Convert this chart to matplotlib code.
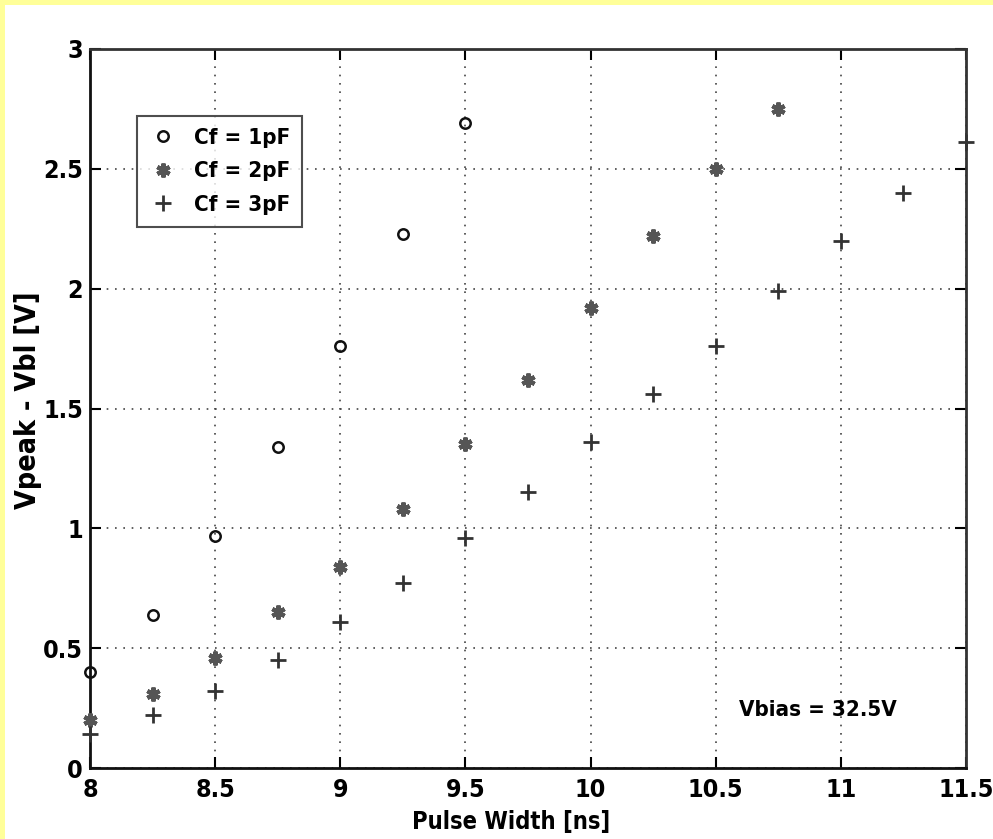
import matplotlib
matplotlib.use("Agg")
import matplotlib.pyplot as plt
from matplotlib.patches import Rectangle

plt.rcParams['font.family'] = ['DejaVu Sans']
plt.rcParams['font.stretch'] = 'condensed'

# Pulse width [ns] and peak voltage above Vbl [V] for three feedback capacitances
pw_1pf = [8.0, 8.25, 8.5, 8.75, 9.0, 9.25, 9.5]
v_1pf = [0.40, 0.64, 0.97, 1.34, 1.76, 2.23, 2.69]

pw_2pf = [8.0, 8.25, 8.5, 8.75, 9.0, 9.25, 9.5, 9.75, 10.0, 10.25, 10.5, 10.75]
v_2pf = [0.20, 0.31, 0.46, 0.65, 0.84, 1.08, 1.35, 1.62, 1.92, 2.22, 2.50, 2.75]

pw_3pf = [8.0, 8.25, 8.5, 8.75, 9.0, 9.25, 9.5, 9.75, 10.0, 10.25, 10.5, 10.75, 11.0, 11.25, 11.5]
v_3pf = [0.14, 0.22, 0.32, 0.45, 0.61, 0.77, 0.96, 1.15, 1.36, 1.56, 1.76, 1.99, 2.20, 2.40, 2.61]

labels = ['Cf = 1pF', 'Cf = 2pF', 'Cf = 3pF']
x_ticks = [8, 8.5, 9, 9.5, 10, 10.5, 11, 11.5]
x_tick_labels = ['8', '8.5', '9', '9.5', '10', '10.5', '11', '11.5']
y_ticks = [0, 0.5, 1, 1.5, 2, 2.5, 3]
y_tick_labels = ['0', '0.5', '1', '1.5', '2', '2.5', '3']

W, H = 993, 839
fig = plt.figure(figsize=(W / 100, H / 100), dpi=100)
fig.patch.set_facecolor('white')

# pale yellow frame along the top and left edges
fig.patches.append(Rectangle((0, 1 - 5 / H), 1, 5 / H, transform=fig.transFigure,
                             facecolor='#ffff99', edgecolor='none', zorder=0))
fig.patches.append(Rectangle((0, 0), 5 / W, 1, transform=fig.transFigure,
                             facecolor='#ffff99', edgecolor='none', zorder=0))

left, right, top, bottom = 90, 966, 49, 768
ax = fig.add_axes([left / W, 1 - bottom / H, (right - left) / W, (bottom - top) / H])

ax.plot(pw_1pf, v_1pf, linestyle='none', marker='o', markersize=7.5,
        markerfacecolor='none', markeredgecolor='#111111', markeredgewidth=1.8,
        label=labels[0], clip_on=False, zorder=3)
ax.plot(pw_2pf, v_2pf, linestyle='none', marker=(6, 2, 0), markersize=10,
        color='#555555', markeredgewidth=3.0, label=labels[1], clip_on=False, zorder=3)
ax.plot(pw_3pf, v_3pf, linestyle='none', marker='+', markersize=11,
        color='#333333', markeredgewidth=2.0, label=labels[2], clip_on=False, zorder=3)

ax.set_xlim(8, 11.5)
ax.set_ylim(0, 3)
ax.set_xticks(x_ticks)
ax.set_xticklabels(x_tick_labels)
ax.set_yticks(y_ticks)
ax.set_yticklabels(y_tick_labels)

ax.grid(True, linestyle=(0, (1, 4)), color='#444444', linewidth=1.2)
ax.tick_params(direction='in', length=8, width=1.5, top=True, right=True,
               labelsize=18, colors='black')
ax.tick_params(axis='x', pad=7)
ax.tick_params(axis='y', pad=5)
for lbl in ax.get_xticklabels() + ax.get_yticklabels():
    lbl.set_fontweight('bold')
for side in ['left', 'bottom']:
    ax.spines[side].set_linewidth(2.0)
    ax.spines[side].set_color('#111111')
for side in ['top', 'right']:
    ax.spines[side].set_linewidth(2.0)
    ax.spines[side].set_color('#333333')

ax.set_xlabel('Pulse Width [ns]', fontsize=17, fontweight='bold')
ax.xaxis.set_label_coords(0.481, -0.058)
ax.set_ylabel('Vpeak - Vbl [V]', fontsize=20.5, fontweight='bold')
ax.yaxis.set_label_coords(-0.055, 0.512)

leg = ax.legend(loc='upper left', bbox_to_anchor=(0.054, 0.907),
                prop={'weight': 'bold', 'size': 16, 'stretch': 'condensed'},
                frameon=True, fancybox=False,
                edgecolor='#222222', borderpad=0.55, handlelength=1.2,
                handletextpad=0.8, labelspacing=0.6, borderaxespad=0)
leg.get_frame().set_linewidth(1.5)

ax.text(10.91, 0.24, 'Vbias = 32.5V', fontsize=16, fontweight='bold',
        ha='center', va='center')

fig.savefig('out.png', dpi=100, facecolor='white')
